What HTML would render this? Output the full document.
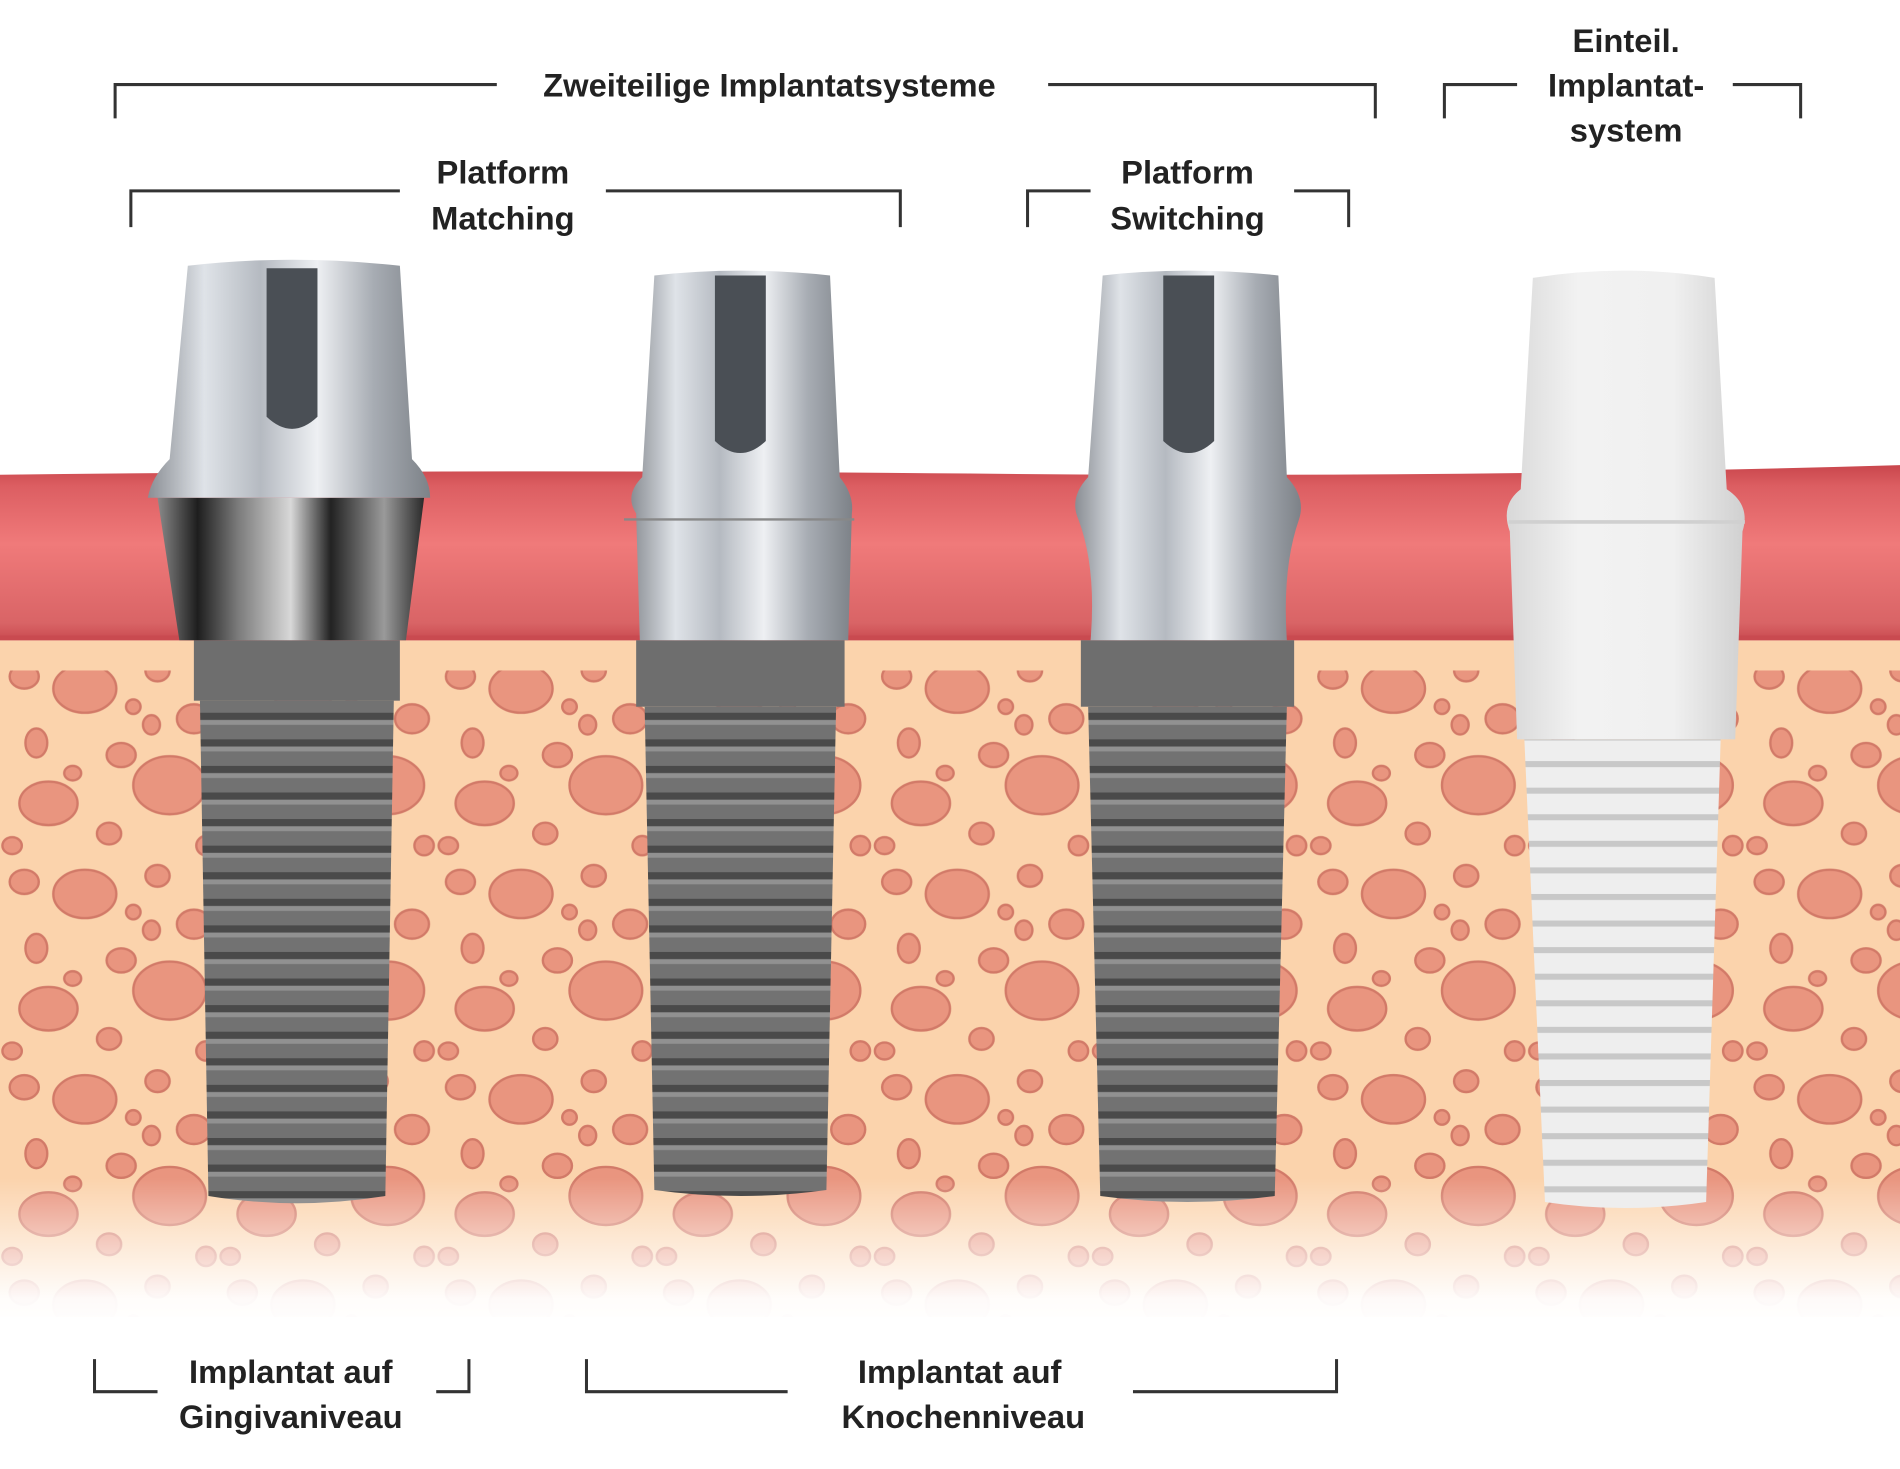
<!DOCTYPE html>
<html><head><meta charset="utf-8"><style>
html,body{margin:0;padding:0;background:#fff;width:1900px;height:1469px;overflow:hidden}
svg{display:block}
text{font-family:"Liberation Sans",sans-serif;font-weight:bold;font-size:27px;fill:#222;text-anchor:middle}
</style></head><body>
<svg width="1900" height="1469" viewBox="0 0 1568 1216" preserveAspectRatio="none" xmlns="http://www.w3.org/2000/svg">
<defs>
<linearGradient id="gum" x1="0" y1="0" x2="0" y2="1">
<stop offset="0" stop-color="#c9464c"/><stop offset="0.12" stop-color="#dc5e62"/><stop offset="0.45" stop-color="#f07a7a"/><stop offset="0.9" stop-color="#d96466"/><stop offset="1" stop-color="#c94a50"/></linearGradient>
<linearGradient id="fade" x1="0" y1="0" x2="0" y2="1">
<stop offset="0" stop-color="#fff" stop-opacity="0"/><stop offset="0.8" stop-color="#fff" stop-opacity="0.95"/><stop offset="1" stop-color="#fff" stop-opacity="1"/></linearGradient>
<pattern id="blobs" width="180" height="170" patternUnits="userSpaceOnUse" x="0" y="540">
<g fill="#e9957f" stroke="#d27a68" stroke-width="2">
<ellipse cx="20" cy="20" rx="12" ry="10"/><ellipse cx="70" cy="30" rx="26" ry="20"/><ellipse cx="130" cy="15" rx="10" ry="9"/>
<ellipse cx="160" cy="55" rx="14" ry="12"/><ellipse cx="30" cy="75" rx="9" ry="12"/><ellipse cx="100" cy="85" rx="12" ry="10"/>
<ellipse cx="140" cy="110" rx="30" ry="24"/><ellipse cx="40" cy="125" rx="24" ry="18"/><ellipse cx="90" cy="150" rx="10" ry="9"/>
<ellipse cx="170" cy="160" rx="8" ry="8"/><ellipse cx="10" cy="160" rx="8" ry="7"/><ellipse cx="110" cy="45" rx="6" ry="6"/>
<ellipse cx="60" cy="100" rx="7" ry="6"/><ellipse cx="125" cy="60" rx="7" ry="8"/>
</g></pattern>
<linearGradient id="ti" x1="0" y1="0" x2="1" y2="0">
<stop offset="0" stop-color="#8a8e94"/><stop offset="0.2" stop-color="#dfe3e8"/><stop offset="0.4" stop-color="#b5bac1"/><stop offset="0.6" stop-color="#eef0f3"/><stop offset="0.8" stop-color="#a7acb3"/><stop offset="1" stop-color="#7d8288"/></linearGradient>
<linearGradient id="collar" x1="0" y1="0" x2="1" y2="0">
<stop offset="0" stop-color="#8a8a8a"/><stop offset="0.15" stop-color="#1e1e1e"/><stop offset="0.3" stop-color="#7a7a7a"/><stop offset="0.5" stop-color="#d8d8d8"/><stop offset="0.65" stop-color="#222"/><stop offset="0.85" stop-color="#9a9a9a"/><stop offset="1" stop-color="#2a2a2a"/></linearGradient>
<pattern id="thr" width="10" height="22" patternUnits="userSpaceOnUse" y="590">
<rect width="10" height="22" fill="#727272"/><rect width="10" height="6" fill="#4a4a4a"/><rect y="6" width="10" height="4" fill="#919191"/></pattern>
<linearGradient id="cer" x1="0" y1="0" x2="1" y2="0">
<stop offset="0" stop-color="#d8d8d8"/><stop offset="0.3" stop-color="#f2f2f2"/><stop offset="0.7" stop-color="#f0f0f0"/><stop offset="1" stop-color="#d0d0d0"/></linearGradient>
<pattern id="cthr" width="10" height="22" patternUnits="userSpaceOnUse" y="630">
<rect width="10" height="22" fill="#eeeeee"/><rect width="10" height="5" fill="#c8c8c8"/></pattern>
</defs>
<rect width="1568" height="1216" fill="#fff"/>
<rect x="0" y="530" width="1568" height="560" fill="#fbd3ac"/>
<rect x="0" y="555" width="1568" height="535" fill="url(#blobs)"/>
<rect x="0" y="975" width="1568" height="125" fill="url(#fade)"/>
<path d="M0 393 Q400 388 800 392 T1568 385 L1568 530 L0 530Z" fill="url(#gum)"/>
<rect x="0" y="526" width="1568" height="4" fill="#c94a50"/>

<rect x="160" y="530" width="170" height="50" fill="#6e6e6e"/>
<path d="M165 580 L325 580 L318 990 Q245 1002 172 990Z" fill="url(#thr)"/>
<path d="M130 412 L350 412 L335 530 L148 530Z" fill="url(#collar)"/>
<path d="M155 220 Q240 210 330 220 L340 380 Q355 395 355 412 L122 412 Q125 395 140 380Z" fill="url(#ti)"/>
<path d="M220 222 L262 222 L262 345 Q241 365 220 345Z" fill="#4a4f55"/>

<rect x="525" y="530" width="172" height="55" fill="#6e6e6e"/>
<path d="M532 585 L690 585 L682 985 Q612 995 540 985Z" fill="url(#thr)"/>
<path d="M540 228 Q610 220 685 228 L693 395 Q705 410 703 425 L700 530 L528 530 L525 425 Q515 410 530 395Z" fill="url(#ti)"/>
<path d="M515 430 L705 430" stroke="#888" stroke-width="2"/>
<path d="M590 228 L632 228 L632 365 Q611 385 590 365Z" fill="#4a4f55"/>

<rect x="892" y="530" width="176" height="55" fill="#6e6e6e"/>
<path d="M898 585 L1062 585 L1052 990 Q980 1000 908 990Z" fill="url(#thr)"/>
<path d="M910 228 Q980 220 1055 228 L1062 395 Q1078 412 1072 430 Q1058 470 1062 530 L900 530 Q905 470 890 430 Q882 412 898 395Z" fill="url(#ti)"/>
<path d="M960 228 L1002 228 L1002 365 Q981 385 960 365Z" fill="#4a4f55"/>

<path d="M1265 230 Q1340 218 1415 230 L1425 405 Q1445 418 1438 440 L1432 612 L1252 612 L1246 440 Q1238 418 1255 405Z" fill="url(#cer)"/>
<path d="M1258 612 L1420 612 L1408 995 Q1340 1005 1275 995Z" fill="url(#cthr)"/>
<path d="M1245 432 L1440 432" stroke="#d0d0d0" stroke-width="3"/>

<g stroke="#333" stroke-width="2.5" fill="none">
<path d="M95 98 L95 70 L410 70 M865 70 L1135 70 L1135 98"/>
<path d="M1192 98 L1192 70 L1252 70 M1430 70 L1486 70 L1486 98"/>
<path d="M108 188 L108 158 L330 158 M500 158 L743 158 L743 188"/>
<path d="M848 188 L848 158 L900 158 M1068 158 L1113 158 L1113 188"/>
<path d="M78 1125 L78 1152 L130 1152 M360 1152 L387 1152 L387 1125"/>
<path d="M484 1125 L484 1152 L650 1152 M935 1152 L1103 1152 L1103 1125"/>
</g>
<text x="635" y="80">Zweiteilige Implantatsysteme</text>
<text x="1342" y="43">Einteil.</text>
<text x="1342" y="80">Implantat-</text>
<text x="1342" y="117">system</text>
<text x="415" y="152">Platform</text>
<text x="415" y="190">Matching</text>
<text x="980" y="152">Platform</text>
<text x="980" y="190">Switching</text>
<text x="240" y="1145">Implantat auf</text>
<text x="240" y="1182">Gingivaniveau</text>
<text x="792" y="1145">Implantat auf</text>
<text x="795" y="1182">Knochenniveau</text>
</svg>
</body></html>
